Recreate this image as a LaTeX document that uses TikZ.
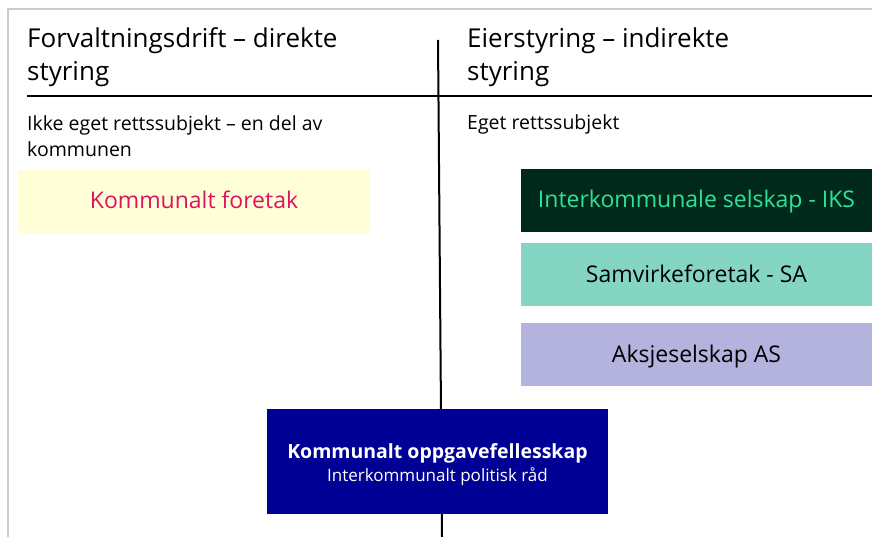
\documentclass[tikz,border=0pt]{standalone}
\usepackage{fontspec}
\setmainfont{Open Sans}
\usepackage{xcolor}
\usepackage{tikz}

\definecolor{foretakfill}{HTML}{FFFFD7}
\definecolor{foretaktext}{HTML}{E0115F}
\definecolor{iksfill}{HTML}{00291B}
\definecolor{ikstext}{HTML}{2DE39B}
\definecolor{safill}{HTML}{84D6C3}
\definecolor{asfill}{HTML}{B3B3DD}
\definecolor{koffill}{HTML}{000094}

\begin{document}
\begin{tikzpicture}[x=1pt, y=-1pt,
  heading/.style={anchor=base west, align=left, inner sep=0pt, font=\fontsize{26}{33}\selectfont},
  subheading/.style={anchor=base west, align=left, inner sep=0pt, font=\fontsize{19.5}{26}\selectfont},
  formbox/.style={minimum width=351pt, minimum height=63pt, inner sep=0pt, text height=18pt, text depth=3pt, font=\fontsize{23}{27}\selectfont}]

\useasboundingbox (0,0) rectangle (872,537);

\draw[gray!40, line width=1.5] (8,537)--(8,9)--(872,9);

\coordinate (top) at (438,40);
\coordinate (bot) at (442,537);
\coordinate (lft) at (27,96.5);
\coordinate (rgt) at (872,96.5);

\draw[line width=2] (top)--(bot);
\draw[line width=2] (lft)--(rgt);

% base anchor sits on the last line
\node[heading] (direkte) at (27,81) {Forvaltningsdrift -- direkte\\styring};
\node[heading] (indirekte) at (467,81) {Eierstyring -- indirekte\\styring};

\node[subheading] (ikkeeget) at (27,157) {Ikke eget rettssubjekt -- en del av\\kommunen};
\node[subheading] (eget) at (467,130) {Eget rettssubjekt};

\node[formbox, fill=foretakfill, text=foretaktext, minimum width=352pt] (foretak) at (194,201.5) {Kommunalt foretak};
\node[formbox, fill=iksfill, text=ikstext] (iks) at (696.5,200.5) {Interkommunale selskap - IKS};
\node[formbox, fill=safill] (sa) at (696.5,274.5) {Samvirkeforetak - SA};
\node[formbox, fill=asfill] (as) at (696.5,354.5) {Aksjeselskap AS};

\node[fill=koffill, text=white, minimum width=341pt, minimum height=105pt, inner sep=0pt, align=center] (kof) at (437.5,461.5)
  {{\fontsize{19.5}{22}\selectfont\bfseries\rule{0pt}{21pt}Kommunalt oppgavefellesskap}\\[3pt]{\fontsize{17}{20}\selectfont Interkommunalt politisk råd}};

\end{tikzpicture}
\end{document}
